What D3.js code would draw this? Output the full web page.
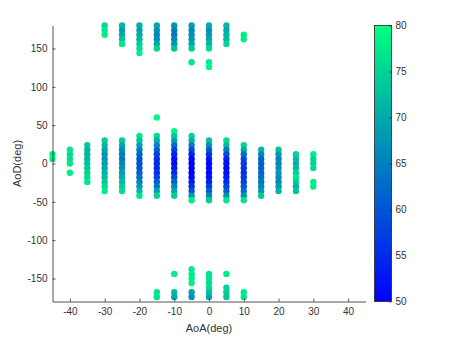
<!DOCTYPE html>
<html><head><meta charset="utf-8">
<script src="https://cdn.jsdelivr.net/npm/d3@7"></script>
<style>body{margin:0;background:#fff}svg{display:block}text{font-family:"Liberation Sans",Arial,sans-serif}</style>
</head><body><svg id="c" width="452" height="339"></svg>
<script>
// AoA columns (deg)
const aoaValues = [-45,-40,-35,-30,-25,-20,-15,-10,-5,0,5,10,15,20,25,30];
// AoD values (deg) for each AoA column
const aodByColumn = [
  [12,6],
  [18,12,6,0,-12],
  [24,18,12,6,0,-6,-12,-18,-24],
  [180,174,168, 30,24,18,12,6,0,-6,-12,-18,-24,-30,-36],
  [180,174,168,162,156, 30,24,18,12,6,0,-6,-12,-18,-24,-30,-36],
  [180,174,168,162,156,150,144, 36,30,24,18,12,6,0,-6,-12,-18,-24,-30,-36,-42],
  [180,174,168,162,156,150, 60, 36,30,24,18,12,6,0,-6,-12,-18,-24,-30,-36,-42, -168,-174],
  [180,174,168,162,156,150, 42,36,30,24,18,12,6,0,-6,-12,-18,-24,-30,-36,-42, -144,-168,-174],
  [180,174,168,162,156,150,132, 36,30,24,18,12,6,0,-6,-12,-18,-24,-30,-36,-42,-48, -138,-144,-150,-156,-168,-174],
  [180,174,168,162,156,150,132,126, 30,24,18,12,6,0,-6,-12,-18,-24,-30,-36,-42,-48, -144,-150,-156,-162,-168,-174],
  [180,174,168,162,156, 30,24,18,12,6,0,-6,-12,-18,-24,-30,-36,-42,-48, -144,-162,-168,-174],
  [168,162, 24,18,12,6,0,-6,-12,-18,-24,-30,-36,-42,-48, -168,-174],
  [18,12,6,0,-6,-12,-18,-24,-30,-36,-42],
  [18,12,6,0,-6,-12,-18,-24,-30,-36],
  [12,6,0,-6,-12,-18,-24,-30,-36],
  [12,6,0,-6,-24,-30]
];
// Power values (colour) for each point, same order as aodByColumn
const powerByColumn = [
  [78,78],
  [77,76,76,77,78],
  [74,71,71,72,73,74,75,76,77],
  [76,77,78, 75,72,70,68,68,69,70,71,72,74,76,78],
  [72,69,70,73,77, 74,70,67,65,64,66,67,69,70,72,74,76],
  [71,69,70,72,74,76,78, 77,73,69,65,62,60,59,60,61,63,65,68,72,77],
  [70,67,66,67,70,75, 79, 76,71,66,62,58,56,55,55,56,58,61,64,69,75, 77,77],
  [68,65,64,66,68,73, 79,74,69,63,58,54,52,52,53,55,58,62,66,70,74, 78,72,70],
  [69,66,67,68,70,74,77, 75,71,65,59,54,51,50,50,50,51,53,56,60,68,78, 78,77,78,78,69,67],
  [70,67,68,70,72,76,78,79, 73,67,61,56,53,51,51,51,52,54,57,61,66,74, 77,77,76,76,73,70],
  [72,70,71,72,75, 76,72,65,59,54,52,51,52,53,55,58,61,67,77, 78,75,74,73],
  [78,78, 75,70,63,59,57,56,56,57,58,60,63,67,77, 77,77],
  [72,66,62,61,61,62,63,64,66,68,74],
  [73,68,66,66,67,68,67,66,68,71],
  [75,72,71,72,75,77,74,71,73],
  [78,75,75,76,78,78]
];
const xTicks = [-40,-30,-20,-10,0,10,20,30,40];
const yTicks = [-150,-100,-50,0,50,100,150];
const cTicks = [50,55,60,65,70,75,80];

const svg = d3.select("#c");
const axCol = "#262626";
const txtCol = "#333333";
const fmt = d => String(d);
const x = d3.scaleLinear().domain([-45,45]).range([52.5,365.5]);
const y = d3.scaleLinear().domain([-180,180]).range([301.5,25.5]);
const winter = v => { const t = Math.max(0, Math.min(1, (v-50)/30)); return d3.rgb(0, 255*t, 255*(1-0.5*t)).toString(); };

const pts = [];
aoaValues.forEach((a,i) => aodByColumn[i].forEach((d,j) => pts.push({a, d, p: powerByColumn[i][j]})));

svg.append("g").selectAll("circle").data(pts).join("circle")
  .attr("cx", d => x(d.a)).attr("cy", d => y(d.d)).attr("r", 3.2)
  .attr("fill", d => winter(d.p));

const gx = svg.append("g").attr("transform","translate(0,301.5)")
  .call(d3.axisBottom(x).tickValues(xTicks).tickFormat(fmt).tickSizeInner(-3).tickSizeOuter(0).tickPadding(6));
const gy = svg.append("g").attr("transform","translate(52.5,0)")
  .call(d3.axisLeft(y).tickValues(yTicks).tickFormat(fmt).tickSizeInner(-3).tickSizeOuter(0).tickPadding(5));
[gx,gy].forEach(g => {
  g.selectAll("path,line").attr("stroke", axCol).attr("stroke-width", 0.8);
  g.selectAll("text").attr("fill", txtCol).attr("font-size", 10).attr("font-family","Liberation Sans, Arial, sans-serif");
});

svg.append("text").attr("x", 209).attr("y", 332).attr("text-anchor","middle")
  .attr("font-size", 11).attr("fill", txtCol).text("AoA(deg)");
svg.append("text").attr("transform","translate(21,163.5) rotate(-90)").attr("text-anchor","middle")
  .attr("font-size", 11).attr("fill", txtCol).text("AoD(deg)");

// colorbar
const cb = {x0: 374.5, x1: 391.5, y0: 25.5, y1: 301.5};
const cy = d3.scaleLinear().domain([50,80]).range([cb.y1, cb.y0]);
const defs = svg.append("defs");
const grad = defs.append("linearGradient").attr("id","wg").attr("x1",0).attr("y1",1).attr("x2",0).attr("y2",0);
d3.range(0, 1.0001, 0.1).forEach(t => grad.append("stop").attr("offset", t).attr("stop-color", winter(50+30*t)));
svg.append("rect").attr("x", cb.x0).attr("y", cb.y0).attr("width", cb.x1-cb.x0).attr("height", cb.y1-cb.y0)
  .attr("fill","url(#wg)").attr("stroke", axCol).attr("stroke-width", 0.8);
const gc = svg.append("g").attr("transform", `translate(${cb.x1},0)`)
  .call(d3.axisRight(cy).tickValues(cTicks).tickFormat(fmt).tickSizeInner(-2.5).tickSizeOuter(0).tickPadding(4));
gc.select(".domain").remove();
gc.selectAll("line").attr("stroke", axCol).attr("stroke-width", 0.8);
gc.selectAll("text").attr("fill", txtCol).attr("font-size", 10).attr("font-family","Liberation Sans, Arial, sans-serif");
</script></body></html>
